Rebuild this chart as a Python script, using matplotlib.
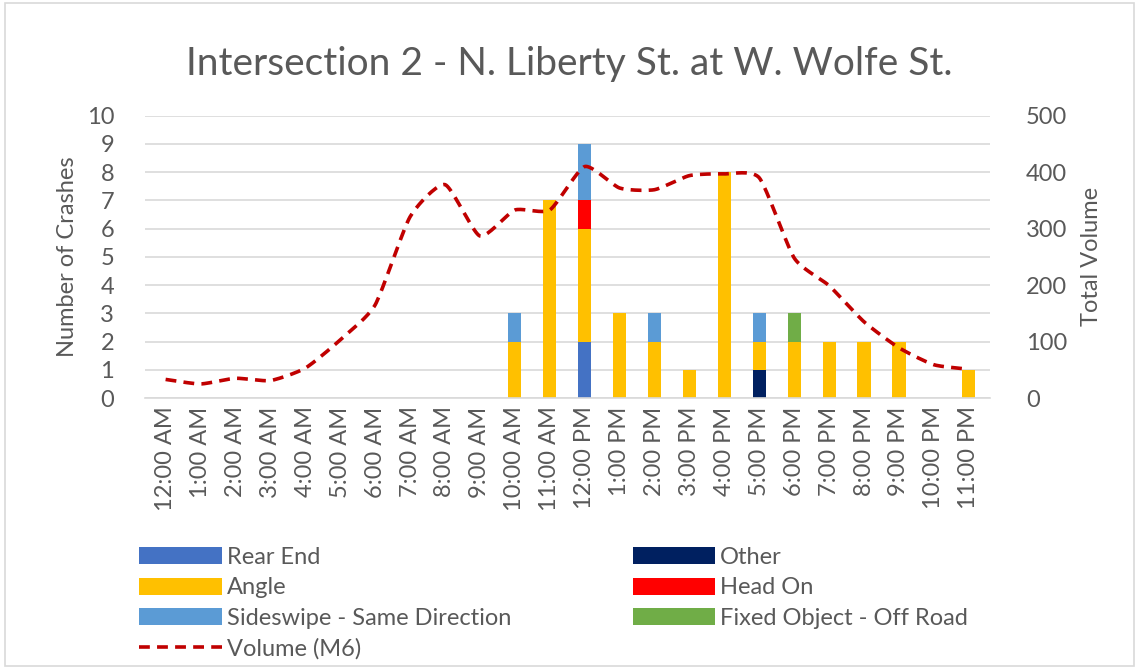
import numpy as np
import matplotlib
matplotlib.use("Agg")
import matplotlib.pyplot as plt
from matplotlib.patches import Rectangle

plt.rcParams['font.family'] = ['Lato', 'DejaVu Sans']

hours = ["12:00 AM", "1:00 AM", "2:00 AM", "3:00 AM", "4:00 AM", "5:00 AM",
         "6:00 AM", "7:00 AM", "8:00 AM", "9:00 AM", "10:00 AM", "11:00 AM",
         "12:00 PM", "1:00 PM", "2:00 PM", "3:00 PM", "4:00 PM", "5:00 PM",
         "6:00 PM", "7:00 PM", "8:00 PM", "9:00 PM", "10:00 PM", "11:00 PM"]

rear_end = [0, 0, 0, 0, 0, 0, 0, 0, 0, 0, 0, 0, 2, 0, 0, 0, 0, 0, 0, 0, 0, 0, 0, 0]
other = [0, 0, 0, 0, 0, 0, 0, 0, 0, 0, 0, 0, 0, 0, 0, 0, 0, 1, 0, 0, 0, 0, 0, 0]
angle = [0, 0, 0, 0, 0, 0, 0, 0, 0, 0, 2, 7, 4, 3, 2, 1, 8, 1, 2, 2, 2, 2, 0, 1]
head_on = [0, 0, 0, 0, 0, 0, 0, 0, 0, 0, 0, 0, 1, 0, 0, 0, 0, 0, 0, 0, 0, 0, 0, 0]
sideswipe = [0, 0, 0, 0, 0, 0, 0, 0, 0, 0, 1, 0, 2, 0, 1, 0, 0, 1, 0, 0, 0, 0, 0, 0]
fixed_object = [0, 0, 0, 0, 0, 0, 0, 0, 0, 0, 0, 0, 0, 0, 0, 0, 0, 0, 1, 0, 0, 0, 0, 0]
volume = [33, 25, 35, 31, 53, 103, 165, 321, 378, 287, 333, 333,
          410, 372, 369, 394, 397, 390, 248, 199, 135, 89, 59, 51]

series = [
    ("Rear End", rear_end, "#4472C4"),
    ("Other", other, "#002060"),
    ("Angle", angle, "#FFC000"),
    ("Head On", head_on, "#FF0000"),
    ("Sideswipe - Same Direction", sideswipe, "#5B9BD5"),
    ("Fixed Object - Off Road", fixed_object, "#70AD47"),
]

text_color = "#595959"
grid_color = "#D9D9D9"


def smooth(xs, ys, n=20, s=0.3):
    # cardinal spline through the points, close to Excel's smoothed line
    xs = np.asarray(xs, float)
    ys = np.asarray(ys, float)
    px = np.concatenate([[2 * xs[0] - xs[1]], xs, [2 * xs[-1] - xs[-2]]])
    py = np.concatenate([[2 * ys[0] - ys[1]], ys, [2 * ys[-1] - ys[-2]]])
    t = np.linspace(0, 1, n, endpoint=False)
    h00 = 2 * t ** 3 - 3 * t ** 2 + 1
    h10 = t ** 3 - 2 * t ** 2 + t
    h01 = -2 * t ** 3 + 3 * t ** 2
    h11 = t ** 3 - t ** 2
    out_x, out_y = [], []
    for i in range(1, len(px) - 2):
        for p, out in ((px, out_x), (py, out_y)):
            m1 = s * (p[i + 1] - p[i - 1])
            m2 = s * (p[i + 2] - p[i])
            out.extend(h00 * p[i] + h10 * m1 + h01 * p[i + 1] + h11 * m2)
    out_x.append(xs[-1])
    out_y.append(ys[-1])
    return np.array(out_x), np.array(out_y)


fig = plt.figure(figsize=(11.39, 6.69), dpi=100)
fig.patches.append(Rectangle((0.004, 0.004), 0.992, 0.992, transform=fig.transFigure,
                             fill=False, edgecolor="#D9D9D9", linewidth=1.2))

ax = fig.add_axes([0.127, 0.405, 0.742, 0.422])
x = np.arange(len(hours))

bottom = np.zeros(len(hours))
handles = {}
for name, vals, color in series:
    vals = np.array(vals, float)
    h = ax.bar(x, vals, width=0.38, bottom=bottom, color=color, label=name, zorder=2)
    handles[name] = h
    bottom += vals

ax.set_ylim(0, 10)
ax.set_xlim(-0.6, len(hours) - 0.4)
ax.set_yticks(range(0, 11))
ax.set_xticks(x)
ax.set_xticklabels(hours, rotation=90)
ax.yaxis.grid(True, color=grid_color, linewidth=1.2, zorder=0)
ax.set_axisbelow(True)
for s in ["top", "right", "left"]:
    ax.spines[s].set_visible(False)
ax.spines["bottom"].set_color(grid_color)
ax.spines["bottom"].set_linewidth(1.2)
ax.tick_params(axis="x", length=0, labelsize=17, colors=text_color, pad=6)
ax.tick_params(axis="y", length=0, labelsize=17, colors=text_color, pad=22)
ax.set_ylabel("Number of Crashes", fontsize=17, color=text_color, labelpad=6)

ax2 = ax.twinx()
sx, sy = smooth(x, volume)
line, = ax2.plot(sx, sy, color="#C00000", linewidth=2.6, dashes=(3, 2),
                 label="Volume (M6)", zorder=3)
ax2.set_ylim(0, 500)
ax2.set_yticks(range(0, 501, 100))
for s in ["top", "right", "left", "bottom"]:
    ax2.spines[s].set_visible(False)
ax2.tick_params(axis="y", length=0, labelsize=17, colors=text_color, pad=26)
ax2.set_ylabel("Total Volume", fontsize=17, color=text_color, labelpad=10)

fig.text(0.5, 0.905, "Intersection 2 - N. Liberty St. at W. Wolfe St.",
         ha="center", va="center", fontsize=28, color=text_color)

order = ["Rear End", "Angle", "Sideswipe - Same Direction", None,
         "Other", "Head On", "Fixed Object - Off Road"]
leg_handles = [handles[n] if n else line for n in order]
leg_labels = [n if n else "Volume (M6)" for n in order]
fig.legend(leg_handles, leg_labels, ncol=2, loc="upper left",
           bbox_to_anchor=(0.112, 0.2), frameon=False, fontsize=17,
           handlelength=3.5, handleheight=0.75, handletextpad=0.2,
           labelspacing=0.4, columnspacing=5.15, labelcolor=text_color,
           borderpad=0)

fig.savefig("out.png", dpi=100)
